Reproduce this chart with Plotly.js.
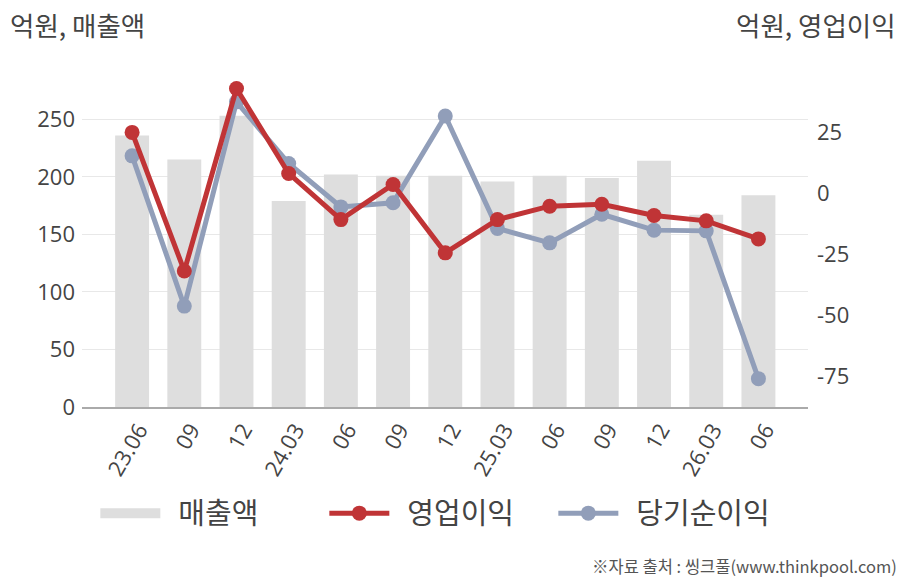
<!DOCTYPE html>
<html>
<head>
<meta charset="utf-8">
<script src="https://cdn.plot.ly/plotly-3.0.1.min.js"></script>
<style>
  html, body { margin: 0; padding: 0; background: #fff; }
  #chart { width: 908px; height: 580px; }
</style>
</head>
<body>
<div id="chart"></div>
<script>
// quarter labels
const quarters = ['23.06', '09', '12', '24.03', '06', '09', '12', '25.03', '06', '09', '12', '26.03', '06'];
// 매출액 (억원, left axis)
const sales = [236, 215, 253, 179, 202, 201, 201, 196, 201, 199, 214, 167, 184];
// 영업이익 (억원, right axis)
const operatingProfit = [25, -31.7, 43, 8.2, -10.7, 3.7, -24.3, -10.7, -5.2, -4.4, -9, -11.2, -18.6];
// 당기순이익 (억원, right axis)
const netIncome = [15.4, -46.1, 37.5, 12.3, -5.5, -3.8, 31.7, -14.3, -20.2, -8.5, -15, -15.3, -75.8];
// axis ticks
const leftTicks = [0, 50, 100, 150, 200, 250];
const rightTicks = [-75, -50, -25, 0, 25];

const FONT = '"Noto Sans CJK KR", "Noto Sans", sans-serif';
const NUMFONT = '"Open Sans", "Noto Sans", sans-serif';
const PAD = '\u00a0\u00a0'; // small gap between legend symbol and text
const xIdx = quarters.map((q, i) => i);

const traceSales = {
    x: xIdx,
    y: sales,
    name: '매출액',
    type: 'bar',
    marker: { color: '#dedede' },
    showlegend: false,
};

// legend-only entry so the 매출액 swatch is a wide grey block
const traceSalesKey = {
    x: [null],
    y: [null],
    name: PAD + '매출액',
    type: 'scatter',
    mode: 'lines',
    line: { color: '#dedede', width: 20 },
    legendrank: 1,
};

const traceOp = {
    x: xIdx,
    y: operatingProfit,
    name: PAD + '영업이익',
    type: 'scatter',
    mode: 'lines+markers',
    yaxis: 'y2',
    line: { color: '#c03436', width: 5 },
    marker: { color: '#c03436', size: 15 },
    legendrank: 2,
};

const traceNet = {
    x: xIdx,
    y: netIncome,
    name: PAD + '당기순이익',
    type: 'scatter',
    mode: 'lines+markers',
    yaxis: 'y2',
    line: { color: '#919eb9', width: 5 },
    marker: { color: '#919eb9', size: 15 },
    legendrank: 3,
};

// net income drawn first so the red line sits on top
const data = [traceSales, traceSalesKey, traceNet, traceOp];

const layout = {
    width: 908,
    height: 580,
    paper_bgcolor: '#fff',
    plot_bgcolor: '#fff',
    font: { family: FONT, color: '#444' },
    margin: { t: 75, l: 82, r: 100, b: 173 },
    bargap: 0.35,
    showlegend: true,
    xaxis: {
        type: 'linear',
        range: [-0.96, 12.95],
        tickvals: xIdx,
        ticktext: quarters,
        tickangle: -60,
        tickfont: { family: NUMFONT, size: 22, color: '#444' },
        ticklabelshift: 7,
        showgrid: false,
        zeroline: false,
        showline: true,
        linecolor: '#aaaaaa',
        linewidth: 1.5,
        ticks: '',
    },
    yaxis: {
        range: [0, 288.5],
        tickvals: leftTicks,
        ticktext: leftTicks.map(String),
        tickfont: { family: NUMFONT, size: 22, color: '#444' },
        gridcolor: '#e8e8e8',
        gridwidth: 1,
        zeroline: false,
        showline: false,
        ticks: '',
        ticklabelstandoff: 6,
    },
    yaxis2: {
        overlaying: 'y',
        side: 'right',
        range: [-87.4, 48.5],
        tickvals: rightTicks,
        ticktext: rightTicks.map(String),
        tickfont: { family: NUMFONT, size: 22, color: '#444' },
        showgrid: false,
        zeroline: false,
        showline: false,
        ticks: '',
        ticklabelstandoff: 8,
    },
    legend: {
        orientation: 'h',
        xref: 'container',
        yref: 'container',
        x: 0.105,
        xanchor: 'left',
        y: 0.115,
        yanchor: 'middle',
        font: { size: 29, color: '#444' },
        itemwidth: 60,
        entrywidth: 154,
        traceorder: 'normal',
    },
    annotations: [
        {
            text: '억원, 매출액',
            xref: 'paper', yref: 'paper',
            x: 0, y: 1,
            xanchor: 'left', yanchor: 'bottom',
            xshift: -74, yshift: 29,
            showarrow: false,
            font: { size: 26.5, color: '#444' },
        },
        {
            text: '억원, 영업이익',
            xref: 'paper', yref: 'paper',
            x: 1, y: 1,
            xanchor: 'right', yanchor: 'bottom',
            xshift: 90, yshift: 29,
            showarrow: false,
            font: { size: 26.5, color: '#444' },
        },
        {
            text: '※자료 출처 : 씽크풀(www.thinkpool.com)',
            xref: 'paper', yref: 'paper',
            x: 1, y: 0,
            xanchor: 'right', yanchor: 'middle',
            xshift: 91, yshift: -159,
            showarrow: false,
            font: { size: 16.5, color: '#555' },
        },
    ],
};

Plotly.newPlot('chart', data, layout, { displayModeBar: false, staticPlot: true });
</script>
</body>
</html>
